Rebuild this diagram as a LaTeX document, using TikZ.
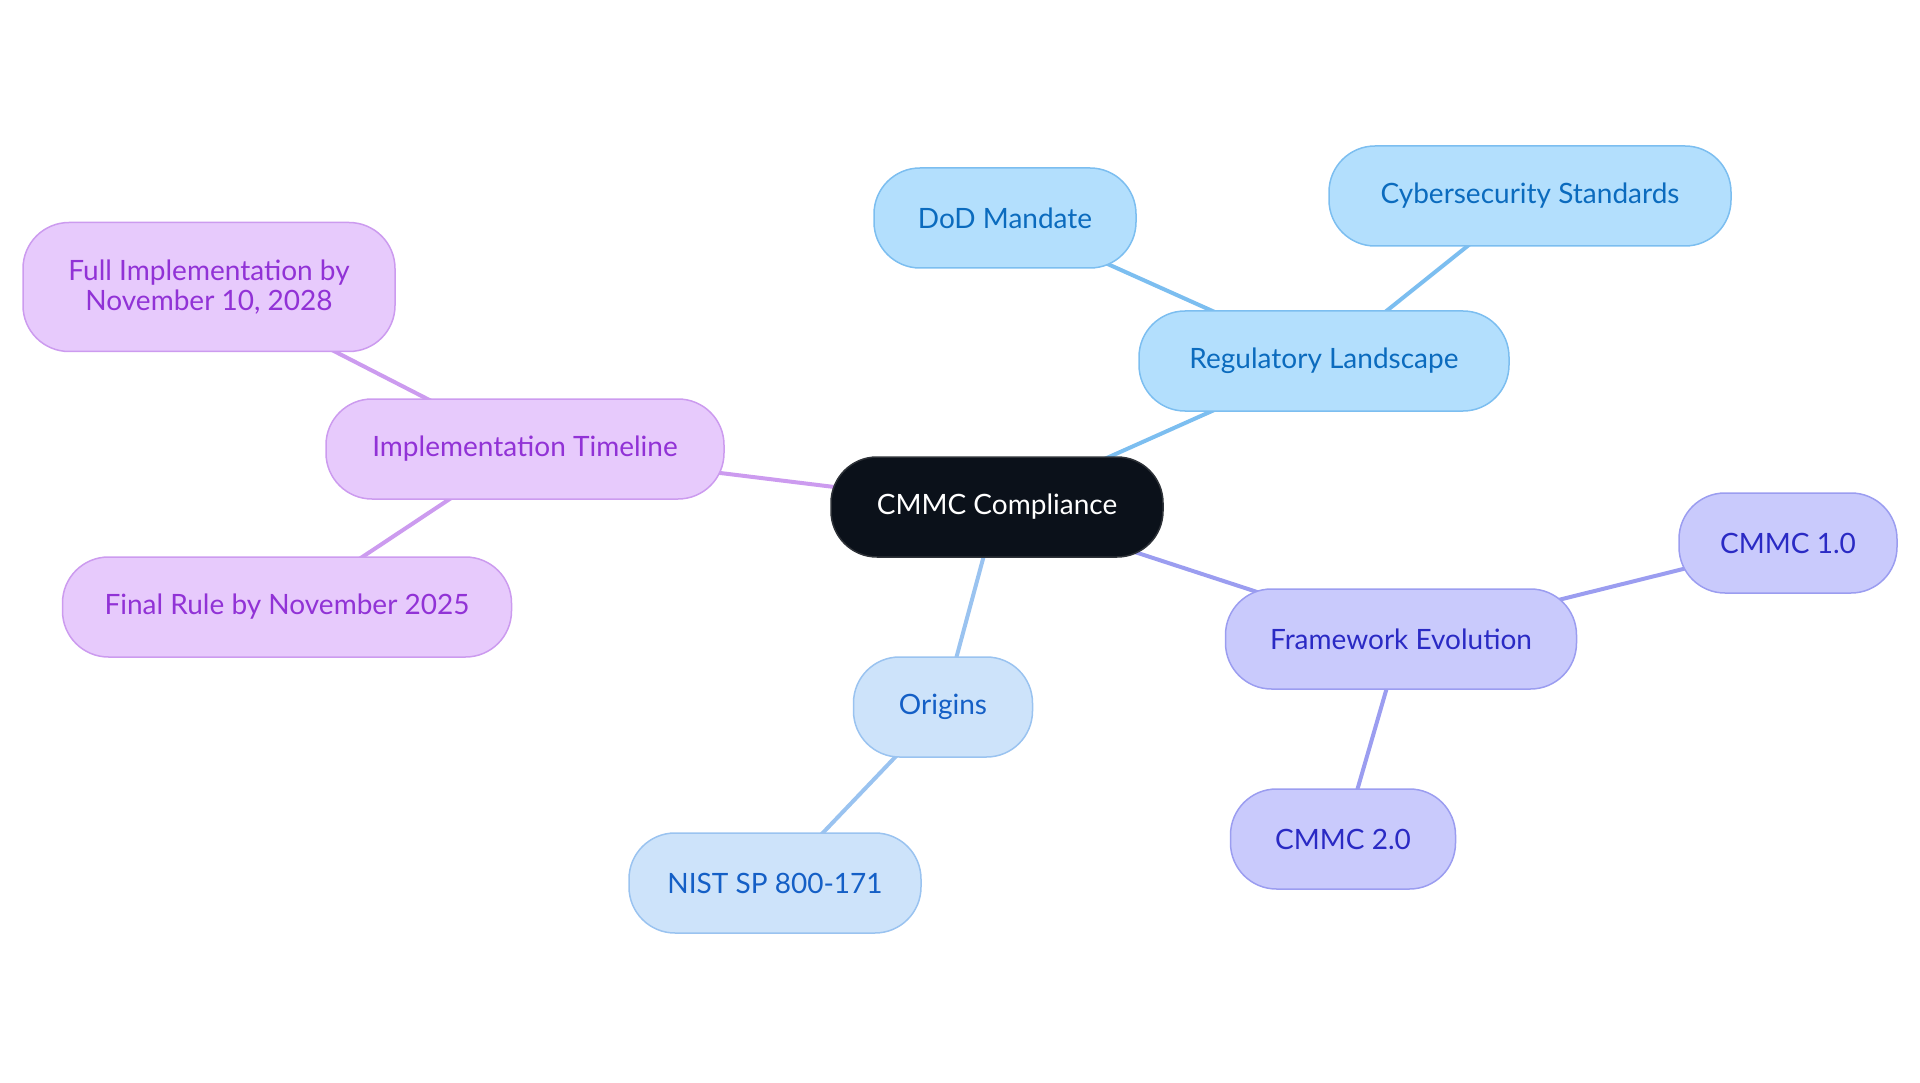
\documentclass[tikz,border=0pt]{standalone}
\usepackage{fontspec}
\setmainfont{Lato}
\usepackage{tikz}
\usetikzlibrary{backgrounds}
\definecolor{hubfill}{HTML}{0B111A}
\definecolor{hubline}{HTML}{2E3238}
\definecolor{regfill}{HTML}{B3DFFD}
\definecolor{regline}{HTML}{7CBEF0}
\definecolor{regtext}{HTML}{0B6BBE}
\definecolor{orifill}{HTML}{CDE3FA}
\definecolor{oriline}{HTML}{9AC3F0}
\definecolor{oritext}{HTML}{145FC6}
\definecolor{frafill}{HTML}{C9CAFC}
\definecolor{fraline}{HTML}{9B9DF0}
\definecolor{fratext}{HTML}{2A2AC4}
\definecolor{timfill}{HTML}{E7CAFC}
\definecolor{timline}{HTML}{CC9BEF}
\definecolor{timtext}{HTML}{9132D6}
\tikzset{
  block/.style={rectangle, rounded corners=46pt, line width=1.5pt, align=center,
                font=\fontsize{28}{30}\selectfont, minimum height=100pt, inner sep=0pt},
  hub/.style={block, fill=hubfill, draw=hubline, text=white},
  reg/.style={block, fill=regfill, draw=regline, text=regtext},
  origin/.style={block, fill=orifill, draw=oriline, text=oritext},
  frame/.style={block, fill=frafill, draw=fraline, text=fratext},
  timeline/.style={block, fill=timfill, draw=timline, text=timtext},
  link/.style={line width=4pt},
}

\begin{document}
\begin{tikzpicture}[x=1pt, y=-1pt]
\useasboundingbox (0,0) rectangle (1920,1083);
\node[hub, minimum width=332pt]      (cmmc)    at (997,507)  {CMMC Compliance};
\node[reg, minimum width=370pt]      (regland) at (1324,361) {Regulatory Landscape};
\node[reg, minimum width=402pt]      (cyber)   at (1530,196) {Cybersecurity Standards};
\node[reg, minimum width=262pt]      (dod)     at (1005,218) {DoD Mandate};
\node[timeline, minimum width=398pt] (impl)    at (525,449)  {Implementation Timeline};
\node[timeline, minimum width=372pt, minimum height=129pt] (full) at (209,287) {Full Implementation by\\November 10, 2028};
\node[timeline, minimum width=449pt] (final)   at (287,607)  {Final Rule by November 2025};
\node[frame, minimum width=351pt]    (frame)   at (1401,639) {Framework Evolution};
\node[frame, minimum width=218pt]    (cmmcone) at (1788,543) {CMMC 1.0};
\node[frame, minimum width=225pt]    (cmmctwo) at (1343,839) {CMMC 2.0};
\node[origin, minimum width=179pt]   (origins) at (943,707)  {Origins};
\node[origin, minimum width=292pt]   (nist)    at (775,883)  {NIST SP 800-171};

\begin{scope}[on background layer]
\draw[link, draw=regline]  (cmmc.center) -- (regland.center);
\draw[link, draw=regline]  (regland.center) -- (cyber.center);
\draw[link, draw=regline]  (regland.center) -- (dod.center);
\draw[link, draw=timline]  (cmmc.center) -- (impl.center);
\draw[link, draw=timline]  (impl.center) -- (full.center);
\draw[link, draw=timline]  (impl.center) -- (final.center);
\draw[link, draw=fraline]  (cmmc.center) -- (frame.center);
\draw[link, draw=fraline]  (frame.center) -- (cmmcone.center);
\draw[link, draw=fraline]  (frame.center) -- (cmmctwo.center);
\draw[link, draw=oriline]  (cmmc.center) -- (origins.center);
\draw[link, draw=oriline]  (origins.center) -- (nist.center);
\end{scope}
\end{tikzpicture}
\end{document}
